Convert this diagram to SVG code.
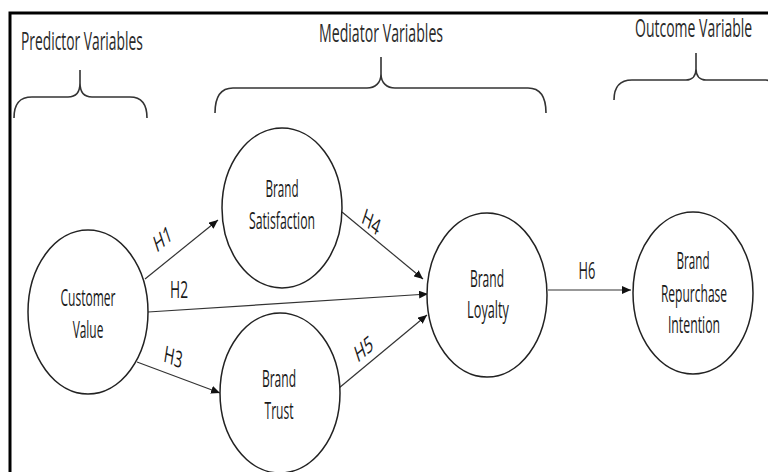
<svg xmlns="http://www.w3.org/2000/svg" width="768" height="472" viewBox="0 0 768 472">
<style>
.node{fill:#fff;stroke:#222;stroke-width:1.5}
.lbl{font-family:"Open Sans","Liberation Sans",sans-serif;font-size:23px;font-weight:500;fill:#1a1a1a;text-anchor:middle}
.ttl{font-family:"Open Sans","Liberation Sans",sans-serif;font-size:25px;font-weight:500;fill:#2a2a2a}
.brace{fill:none;stroke:#333;stroke-width:1.6}
.conn{fill:none;stroke:#333;stroke-width:1.2;marker-end:url(#ah)}
</style>
<defs>
<marker id="ah" markerUnits="userSpaceOnUse" markerWidth="9" markerHeight="8" refX="9" refY="4" orient="auto">
<path d="M0,0 L9,4 L0,8 z" fill="#111"/>
</marker>
</defs>
<rect width="768" height="472" fill="#fff"/>
<path d="M10,472 L10,13 L768,13" fill="none" stroke="#000" stroke-width="3"/>

<g id="titles">
<text class="ttl" transform="translate(21,50) scale(0.58,1)" textLength="210" lengthAdjust="spacingAndGlyphs">Predictor Variables</text>
<text class="ttl" transform="translate(319,42) scale(0.58,1)" textLength="214" lengthAdjust="spacingAndGlyphs">Mediator Variables</text>
<text class="ttl" transform="translate(635,37) scale(0.58,1)" textLength="202" lengthAdjust="spacingAndGlyphs">Outcome Variable</text>
</g>
<g id="braces">
<path class="brace" d="M14,118 C14,103 20,97 32,97 L68,97 C76,97 80,92 80,83 L80,70 M80,83 C80,92 84,97 92,97 L130,97 C141,97 147,103 147,118"/>
<path class="brace" d="M215,113 C215,97 221,88 233,88 L367,88 C375,88 381,83 381,74 L381,57 M381,74 C381,83 387,88 395,88 L528,88 C540,88 546,97 546,113"/>
<path class="brace" d="M614,100 C614,87 620,80 632,80 L686,80 C692,80 696,76 696,69 L696,53 M696,69 C696,76 700,80 706,80 L766,80 C770,80 772,84 772,90"/>
</g>

<g id="connectors">
<line class="conn" x1="145" y1="279" x2="218" y2="220"/>
<line class="conn" x1="148" y1="312" x2="428" y2="294"/>
<line class="conn" x1="137" y1="362" x2="220" y2="393"/>
<line class="conn" x1="342" y1="212" x2="423" y2="279"/>
<line class="conn" x1="339" y1="388" x2="427" y2="315"/>
<line class="conn" x1="548" y1="290" x2="631" y2="290"/>
<g transform="translate(165,246) scale(0.62,1) rotate(-28)"><text class="lbl" x="0" y="0">H1</text></g>
<text class="lbl" transform="translate(179,298) scale(0.58,1)" textLength="31" lengthAdjust="spacingAndGlyphs">H2</text>
<g transform="translate(172,365) scale(0.62,1) rotate(14)"><text class="lbl" x="0" y="0">H3</text></g>
<g transform="translate(369,229) scale(0.62,1) rotate(28)"><text class="lbl" x="0" y="0">H4</text></g>
<g transform="translate(366,356) scale(0.62,1) rotate(-28)"><text class="lbl" x="0" y="0">H5</text></g>
<text class="lbl" transform="translate(587,279) scale(0.58,1)" textLength="29" lengthAdjust="spacingAndGlyphs">H6</text>
</g>

<g id="customer-value">
<ellipse class="node" cx="88" cy="312" rx="60" ry="82"/>
<text class="lbl" transform="translate(88,306) scale(0.58,1)" textLength="95" lengthAdjust="spacingAndGlyphs">Customer</text>
<text class="lbl" transform="translate(88,338) scale(0.58,1)" textLength="53" lengthAdjust="spacingAndGlyphs">Value</text>
</g>
<g id="brand-satisfaction">
<ellipse class="node" cx="282" cy="208" rx="60" ry="80"/>
<text class="lbl" transform="translate(282,197) scale(0.58,1)" textLength="57" lengthAdjust="spacingAndGlyphs">Brand</text>
<text class="lbl" transform="translate(282,229) scale(0.58,1)" textLength="114" lengthAdjust="spacingAndGlyphs">Satisfaction</text>
</g>
<g id="brand-trust">
<ellipse class="node" cx="280" cy="393" rx="60" ry="80"/>
<text class="lbl" transform="translate(279,387) scale(0.58,1)" textLength="59" lengthAdjust="spacingAndGlyphs">Brand</text>
<text class="lbl" transform="translate(279,419) scale(0.58,1)" textLength="50" lengthAdjust="spacingAndGlyphs">Trust</text>
</g>
<g id="brand-loyalty">
<ellipse class="node" cx="487" cy="295" rx="60" ry="82"/>
<text class="lbl" transform="translate(487,287) scale(0.58,1)" textLength="59" lengthAdjust="spacingAndGlyphs">Brand</text>
<text class="lbl" transform="translate(488,318) scale(0.58,1)" textLength="72" lengthAdjust="spacingAndGlyphs">Loyalty</text>
</g>
<g id="brand-repurchase-intention">
<ellipse class="node" cx="693" cy="293" rx="60" ry="81"/>
<text class="lbl" transform="translate(693,269) scale(0.58,1)" textLength="57" lengthAdjust="spacingAndGlyphs">Brand</text>
<text class="lbl" transform="translate(694,302) scale(0.58,1)" textLength="114" lengthAdjust="spacingAndGlyphs">Repurchase</text>
<text class="lbl" transform="translate(694,333) scale(0.58,1)" textLength="90" lengthAdjust="spacingAndGlyphs">Intention</text>
</g>
</svg>
